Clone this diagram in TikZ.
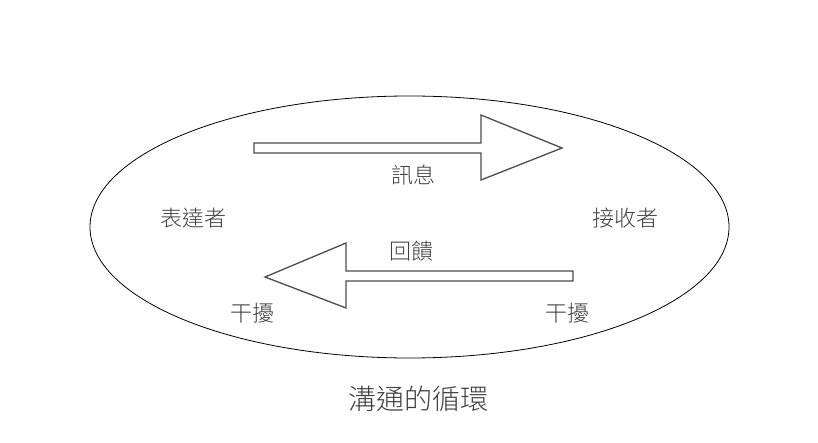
\documentclass[tikz,border=0pt]{standalone}
\usepackage{fontspec}
\newfontfamily\cjk{Noto Sans CJK TC Light}
\usetikzlibrary{positioning}
\tikzstyle{lbl} = [text=black!75, font=\cjk\fontsize{22}{22}\selectfont, inner sep=0pt]
\tikzstyle{caption} = [text=black!75, font=\cjk\fontsize{28}{28}\selectfont, inner sep=0pt]
\tikzstyle{blockarrow} = [draw=black!70, line width=1.3pt, line join=miter]

\begin{document}
\begin{tikzpicture}[x=1pt,y=-1pt]
\useasboundingbox (0,0) rectangle (818,443);
\draw[line width=0.8pt] (409.5,227) ellipse [x radius=319.5, y radius=131];
%\node (x) at (409.5,227) {};
\draw[blockarrow] (254,143) -- (481,143) -- (481,115) -- (562,148) -- (481,180) -- (481,153) -- (254,153) -- cycle;
\draw[blockarrow] (573,271) -- (346,271) -- (346,243) -- (265,277) -- (346,308) -- (346,281) -- (573,281) -- cycle;
\draw (413.5,175) node (msg) [lbl] {訊息};
\draw (193.5,218) node (sender) [lbl] {表達者};
\draw (625.5,218) node (receiver) [lbl] {接收者};
\draw (411,251) node (fb) [lbl] {回饋};
\draw (252,313) node (noise1) [lbl] {干擾};
\draw (567,313) node (noise2) [lbl] {干擾};
\draw (418,399) node (title) [caption] {溝通的循環};
\end{tikzpicture}
\end{document}
